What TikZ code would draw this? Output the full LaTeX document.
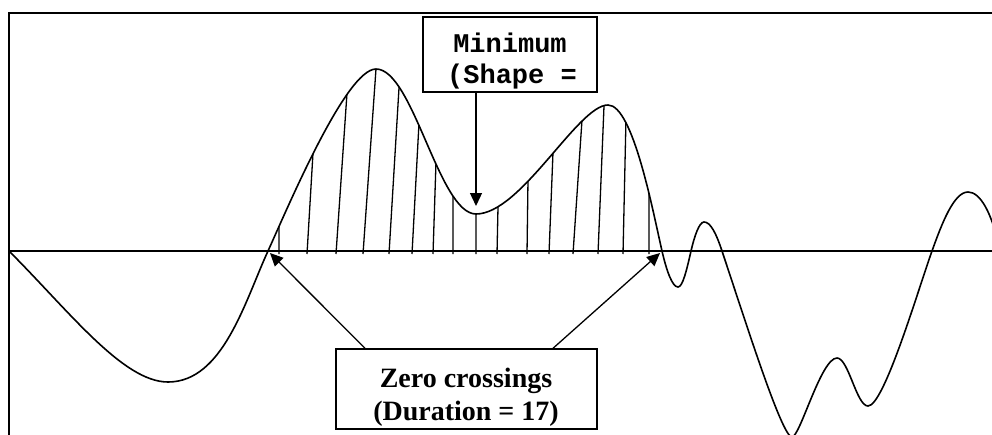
\documentclass[tikz,border=0pt]{standalone}
\usepackage{fontspec}
\setmainfont{Liberation Serif}
\newfontfamily\courfont{Liberation Mono}
\usetikzlibrary{arrows.meta,intersections,calc}
\tikzset{
  frameline/.style={line width=1.6pt, line cap=rect},
  waveline/.style={line width=1.6pt},
  hatchline/.style={line width=1.3pt},
  boxnode/.style={draw, line width=1.4pt, fill=white, inner sep=0pt},
  arr/.style={line width=1.3pt, -{Triangle[length=13pt,width=12pt]}},
  courtext/.style={anchor=base, inner sep=0pt, font=\courfont\bfseries\fontsize{27}{31}\selectfont},
  timestext/.style={anchor=base, inner sep=0pt, font=\bfseries\fontsize{28}{32}\selectfont}
}
\begin{document}
\begin{tikzpicture}[x=1pt,y=-1pt]
\useasboundingbox (0,0) rectangle (992,434);
\fill[white] (0,0) rectangle (992,434);
% frame and axis
\coordinate (tl) at (9,13);
\coordinate (tr) at (992,13);
\coordinate (bl) at (9,434);
\coordinate (al) at (9,251);
\coordinate (ar) at (992,251);
\draw[frameline] (tr) -- (tl) -- (bl);
\draw[frameline] (al) -- (ar);
% waveform
\begin{scope}
\clip (0,0) rectangle (992,434);
\draw[waveline, name path global=wave]
 (9,251) .. controls (69,311) and (123,382) .. (168,382)
 .. controls (223,382) and (245,301) .. (268,251)
 .. controls (288,207) and (346,69) .. (376,69)
 .. controls (413,69) and (439,214) .. (476,214)
 .. controls (521,214) and (578,105) .. (608,105)
 .. controls (633,105) and (653,212) .. (662,251)
 .. controls (666.5,270.5) and (672.2,287) .. (678,287)
 .. controls (682.7,287) and (686.7,269.9) .. (691,251)
 .. controls (694.5,235.8) and (699.3,222) .. (704,222)
 .. controls (710.5,222) and (716,233) .. (722,251)
 .. controls (747,326) and (782,437) .. (792,437)
 .. controls (800,437) and (821,358) .. (837,358)
 .. controls (848.5,358) and (856.5,406) .. (868,406)
 .. controls (884,406) and (918,290) .. (932,251)
 .. controls (942,223) and (954,192) .. (968,192)
 .. controls (980,192) and (992,212) .. (1000,251);
\end{scope}
% hatching
\foreach \xb/\xt/\yt [count=\i] in {279/279/228, 307/313/153, 336/347/93, 363/376/69,
  389/399/88, 412/419/123, 433/436/162, 453/453/196, 476/476/214, 497/498/207,
  527/528/180, 549/553/152, 573/582/120, 598/604/106, 623/626/118, 649/649/197}{
  \path[name path=hl\i] (\xb,251) -- ($(\xb,251)!1.6!(\xt,\yt)$);
  \draw[hatchline, name intersections={of=wave and hl\i}] (\xb,254) -- (intersection-1);
}
% boxes
\node[boxnode, minimum width=174pt, minimum height=75pt] (minbox) at (510,54.5) {};
\node[courtext] (mintext1) at (510,52) {Minimum};
\node[courtext] (mintext2) at (512,83) {(Shape =};
\node[boxnode, minimum width=261pt, minimum height=80pt] (zerobox) at (466.5,389) {};
\node[timestext] (zerotext1) at (466,387) {Zero crossings};
\node[timestext] (zerotext2) at (466,420) {(Duration = 17)};
% arrows
\coordinate (mintip) at (476,206);
\coordinate (lefttip) at (270,253);
\coordinate (righttip) at (660,253);
\draw[arr] (minbox.south -| mintip) -- (mintip);
\draw[arr] (zerobox.north -| 365,0) -- (lefttip);
\draw[arr] (zerobox.north -| 553,0) -- (righttip);
\end{tikzpicture}
\end{document}
